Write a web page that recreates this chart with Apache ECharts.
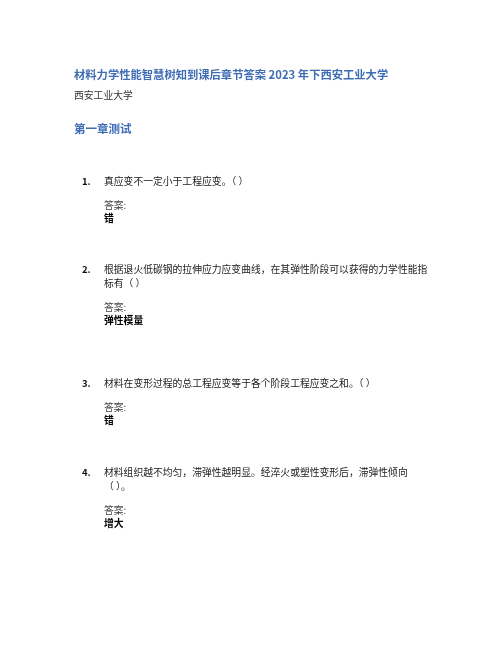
<!DOCTYPE html>
<html>
<head>
<meta charset="utf-8">
<script src="https://cdn.jsdelivr.net/npm/echarts@6/dist/echarts.min.js"></script>
<style>
  html, body { margin: 0; padding: 0; background: #fff; }
  #main { width: 502px; height: 649px; }
</style>
</head>
<body>
<div id="main"></div>
<script>
// page text
var docTitle = '材料力学性能智慧树知到课后章节答案2023年下西安工业大学';
var docSchool = '西安工业大学';
var chapterName = '第一章测试';
var answerLabel = '答案:';

var questionNos = ['1.', '2.', '3.', '4.'];
var questionLines = [
  ['真应变不一定小于工程应变。（ ）'],
  ['根据退火低碳钢的拉伸应力应变曲线，在其弹性阶段可以获得的力学性能指', '标有（ ）'],
  ['材料在变形过程的总工程应变等于各个阶段工程应变之和。（ ）'],
  ['材料组织越不均匀，滞弹性越明显。经淬火或塑性变形后，滞弹性倾向', '（ ）。']
];
var answers = ['错', '弹性模量', '错', '增大'];

// layout (top line of each question)
var itemTop = [181, 269, 383, 472];
var lineGap = 14;

var cjk = '"Noto Sans CJK SC", "Noto Sans", sans-serif';
var blue = '#3f6db4';

function txt(x, y, s, size, color, weight) {
  return {
    type: 'text',
    x: x,
    y: y,
    style: {
      text: s,
      fontSize: size,
      fontFamily: cjk,
      fontWeight: weight || 'normal',
      fill: color,
      verticalAlign: 'middle',
      align: 'left'
    }
  };
}

var els = [];
els.push(txt(74, 75, docTitle.replace('2023', ' 2023 '), 11.3, blue, 'bold'));
els.push(txt(74, 95, docSchool, 9.8, '#333'));
els.push(txt(74, 129, chapterName, 11.5, blue, 'bold'));

questionNos.forEach(function (no, i) {
  var y = itemTop[i];
  els.push(txt(82, y, no, 9.5, '#111', 'bold'));
  questionLines[i].forEach(function (line, j) {
    els.push(txt(104, y + j * lineGap, line, 9.8, '#222'));
  });
  var lastY = y + (questionLines[i].length - 1) * lineGap;
  els.push(txt(104, lastY + 24, answerLabel, 9.8, '#444'));
  els.push(txt(104, lastY + 37, answers[i], 9.8, '#000', 'bold'));
});

var chart = echarts.init(document.getElementById('main'));
chart.setOption({
  backgroundColor: '#ffffff',
  animation: false,
  graphic: els
});
</script>
</body>
</html>
